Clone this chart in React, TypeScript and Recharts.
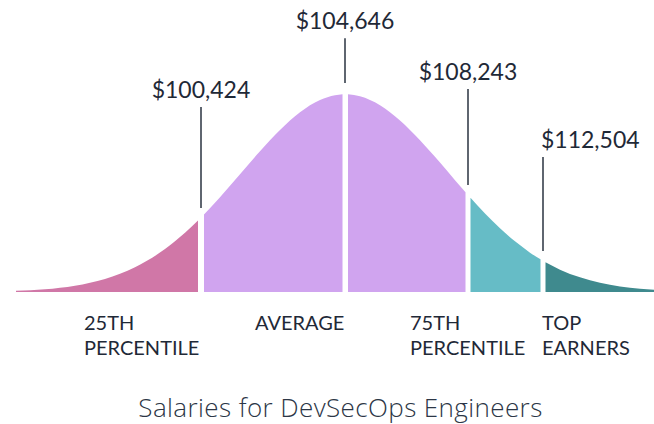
import { ComposedChart, Area, XAxis, YAxis, ReferenceLine } from 'recharts'

// horizontal position along the curve (chart units) and curve height
const curveX = [16, 45, 75, 105, 135, 165, 185, 198, 204, 220, 240, 260, 280, 300, 320, 335, 342.5, 348, 360, 380, 400, 420, 440, 455, 465.5, 470.5, 485, 500, 515, 530, 540.5, 545.5, 560, 580, 600, 620, 640, 654]
const curveH = [0.6, 1.4, 3.2, 6.6, 12.5, 21.7, 29.9, 36.1, 39.2, 47.9, 59.5, 71.1, 81.9, 90.9, 97.1, 99.5, 100, 100, 98.9, 94.4, 86.7, 76.7, 65.4, 56.5, 50.4, 47.6, 39.7, 32.2, 25.6, 19.9, 16.5, 15.0, 11.3, 7.4, 4.7, 2.8, 1.7, 1.1]

// segments of the bell: [start, end]
const segStart = [16, 204, 348, 470.5, 545.5]
const segEnd = [198, 342.5, 465.5, 540.5, 654]
const segColors = ['#d077a7', '#d0a4ef', '#d0a4ef', '#66bcc6', '#3f8a8e']

const markerX = [201, 345, 468, 543]
const markerTop = [93.5, 128.3, 102.6, 68.2]
const markerBottom = [42.4, 105.6, 54.1, 20.7]
const salaries = ['$100,424', '$104,646', '$108,243', '$112,504']

const groupAt = [84, 255, 410, 542]
const groupLabels = [['25TH', 'PERCENTILE'], ['AVERAGE'], ['75TH', 'PERCENTILE'], ['TOP', 'EARNERS']]

const rows = curveX.map((x, i) => {
  const row: Record<string, number | null> = { x }
  segStart.forEach((s, k) => {
    row['s' + k] = x >= s && x <= segEnd[k] ? curveH[i] : null
  })
  return row
})

const textColor = '#1f2937'

function GroupTick(props: any) {
  const { x, y, payload } = props
  const idx = groupAt.indexOf(payload.value)
  const lines = groupLabels[idx] || []
  return (
    <text x={x} y={y} fontFamily="Lato" fontSize={20} fill={textColor} textAnchor="start">
      {lines.map((l, i) => (
        <tspan key={l} x={x} dy={i === 0 ? 36 : 25}>{l}</tspan>
      ))}
    </text>
  )
}

export default function App() {
  return (
    <div style={{ position: 'absolute', left: 0, top: 0, width: 654, height: 424, background: '#fff' }}>
      <ComposedChart width={654} height={424} data={rows} margin={{ top: 15, right: 0, bottom: 32, left: 0 }}>
        <XAxis
          dataKey="x"
          type="number"
          domain={[0, 654]}
          ticks={groupAt}
          interval={0}
          height={100}
          axisLine={false}
          tickLine={false}
          tickSize={0}
          tick={<GroupTick />}
        />
        <YAxis hide domain={[0, 140]} allowDataOverflow />
        {segColors.map((c, k) => (
          <Area
            key={k}
            dataKey={'s' + k}
            type="monotone"
            fill={c}
            fillOpacity={1}
            stroke="none"
            connectNulls={false}
            dot={false}
            activeDot={false}
            isAnimationActive={false}
          />
        ))}
        {markerX.map((mx, i) => (
          <ReferenceLine
            key={mx}
            segment={[{ x: mx, y: markerBottom[i] }, { x: mx, y: markerTop[i] }]}
            stroke="#2a3340"
            strokeWidth={1.5}
            label={{
              content: (p: any) => {
                const vb = p.viewBox || {}
                const last = i === markerX.length - 1
                return (
                  <text
                    x={last ? vb.x - 2 : vb.x}
                    y={vb.y - 9}
                    textAnchor={last ? 'start' : 'middle'}
                    fontFamily="Lato"
                    fontSize={23}
                    fill={textColor}
                  >
                    {salaries[i]}
                  </text>
                )
              },
            }}
          />
        ))}
      </ComposedChart>
      <div
        style={{
          position: 'absolute',
          left: 0,
          width: 681,
          top: 389,
          textAlign: 'center',
          fontFamily: '"Open Sans"',
          fontSize: 26,
          letterSpacing: 0.4,
          fontWeight: 300,
          color: '#2c3646',
          whiteSpace: 'nowrap',
        }}
      >
        Salaries for DevSecOps Engineers
      </div>
    </div>
  )
}
